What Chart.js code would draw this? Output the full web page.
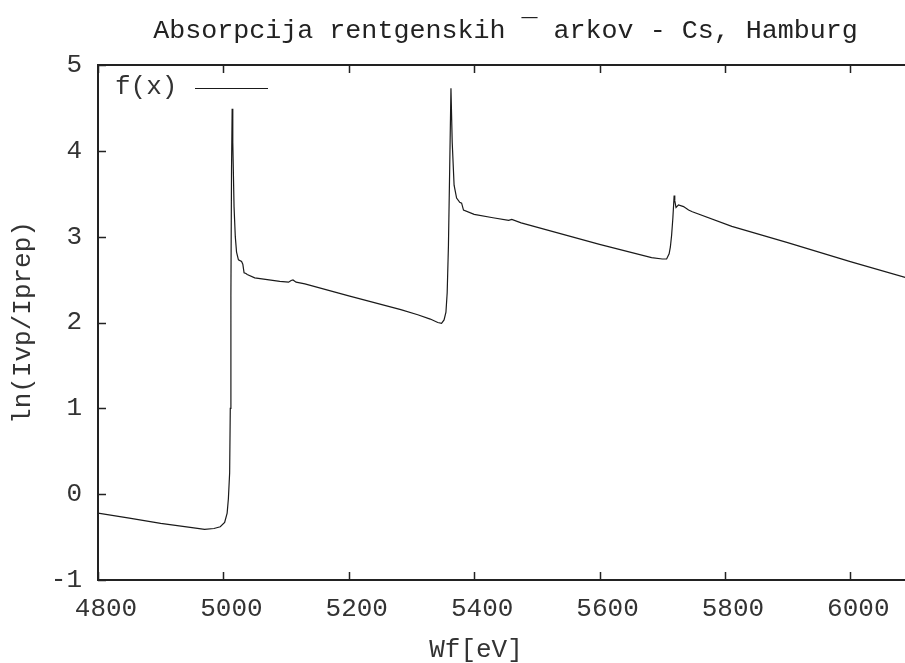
<!DOCTYPE html>
<html>
<head>
<meta charset="utf-8">
<script src="https://cdn.jsdelivr.net/npm/chart.js@4.4.0/dist/chart.umd.min.js"></script>
<style>
  body { margin: 0; overflow: hidden; background: #fff; }
  canvas { display: block; }
</style>
</head>
<body>
<canvas id="absChart" width="940" height="663"></canvas>
<script>
// values (photon energy in eV vs ln(Ivp/Iprep))
const energy = [4800, 4850, 4900, 4950, 4970, 4985, 4995, 5002, 5006, 5008, 5010, 5011, 5012, 5013, 5014,
    5015, 5017, 5019, 5021, 5024, 5029, 5031, 5033, 5036, 5038, 5050, 5070, 5090, 5104, 5108, 5111, 5116,
    5130, 5200, 5283, 5310, 5330, 5342, 5348, 5352, 5355, 5357, 5359, 5361, 5363, 5365, 5368, 5372, 5377,
    5380, 5383, 5400, 5430, 5455, 5460, 5475, 5600, 5683, 5700, 5707, 5711, 5713, 5715, 5717, 5719, 5720,
    5722, 5726, 5734, 5742, 5748, 5811, 5900, 6000, 6100]
const lnRatio = [-0.22, -0.28, -0.34, -0.39, -0.41, -0.40, -0.38, -0.33, -0.22, -0.05, 0.25, 1.0, 2.3, 3.8, 4.49,
    4.1, 3.35, 3.0, 2.82, 2.73, 2.71, 2.68, 2.58, 2.57, 2.56, 2.52, 2.50, 2.48, 2.47, 2.49, 2.495, 2.47,
    2.45, 2.31, 2.15, 2.09, 2.04, 2.00, 1.99, 2.03, 2.12, 2.35, 2.9, 3.8, 4.73, 4.1, 3.6, 3.45, 3.40,
    3.39, 3.31, 3.26, 3.22, 3.19, 3.20, 3.16, 2.91, 2.755, 2.74, 2.74, 2.80, 2.88, 3.02, 3.22, 3.48, 3.42,
    3.34, 3.37, 3.35, 3.31, 3.29, 3.12, 2.93, 2.71, 2.50]

const xTickValues = [4800, 5000, 5200, 5400, 5600, 5800, 6000]
const titleText = 'Absorpcija rentgenskih ¯ arkov - Cs, Hamburg'
const xLabel = 'Wf[eV]'
const yLabel = 'ln(Ivp/Iprep)'

const FONT = '"Liberation Mono", "DejaVu Sans Mono", monospace'
const INK = '#222'

const points = energy.map((e, i) => ({ x: e, y: lnRatio[i] }))

// gnuplot-like frame: border, inward ticks on all four sides, title, xlabel, key
const gnuplotFrame = {
    id: 'gnuplotFrame',
    afterDraw(chart) {
        const ctx = chart.ctx
        const a = chart.chartArea
        const xs = chart.scales.x
        const ys = chart.scales.y
        const t = 8
        ctx.save()
        ctx.strokeStyle = INK
        ctx.lineWidth = 2
        ctx.strokeRect(a.left, a.top, a.right - a.left, a.bottom - a.top)
        ctx.lineWidth = 1.5
        ctx.beginPath()
        xs.ticks.forEach(tk => {
            const px = Math.round(xs.getPixelForValue(tk.value)) + 0.5
            ctx.moveTo(px, a.bottom); ctx.lineTo(px, a.bottom - t)
            ctx.moveTo(px, a.top); ctx.lineTo(px, a.top + t)
        })
        ys.ticks.forEach(tk => {
            const py = Math.round(ys.getPixelForValue(tk.value)) + 0.5
            ctx.moveTo(a.left, py); ctx.lineTo(a.left + t, py)
            ctx.moveTo(a.right, py); ctx.lineTo(a.right - t, py)
        })
        ctx.stroke()

        ctx.fillStyle = INK
        ctx.font = '26.7px ' + FONT
        ctx.textAlign = 'center'
        ctx.textBaseline = 'middle'
        ctx.fillText(titleText, (a.left + a.right) / 2, 31)
        ctx.fillStyle = '#333'
        ctx.font = '26px ' + FONT
        ctx.fillText(xLabel, 476, 650)

        // key
        ctx.textAlign = 'left'
        ctx.fillText(chart.data.datasets[0].label, 115, 87)
        ctx.strokeStyle = '#1a1a1a'
        ctx.lineWidth = 1.2
        ctx.beginPath()
        ctx.moveTo(195, 88.5)
        ctx.lineTo(268, 88.5)
        ctx.stroke()
        ctx.restore()
    }
}

new Chart(document.getElementById('absChart'), {
    type: 'line',
    data: {
        datasets: [{
            label: 'f(x)',
            data: points,
            borderColor: '#1a1a1a',
            borderWidth: 1.2,
            pointRadius: 0,
            tension: 0,
            fill: false
        }]
    },
    options: {
        responsive: false,
        animation: false,
        devicePixelRatio: 1,
        layout: { padding: { top: 65, right: 27, left: 0, bottom: 0 } },
        plugins: {
            legend: { display: false },
            title: { display: false },
            tooltip: { enabled: false }
        },
        scales: {
            x: {
                type: 'linear',
                min: 4800,
                max: 6100,
                grid: { display: false, drawTicks: false },
                border: { display: false },
                ticks: {
                    color: '#333',
                    font: { family: FONT, size: 26 },
                    padding: 14,
                    maxRotation: 0,
                    autoSkip: false,
                    labelOffset: 8,
                    callback: (v) => String(v)
                },
                afterBuildTicks: (scale) => {
                    scale.ticks = xTickValues.map(v => ({ value: v }))
                },
                afterFit: (scale) => { scale.height = 83 }
            },
            y: {
                min: -1,
                max: 5,
                grid: { display: false, drawTicks: false },
                border: { display: false },
                ticks: {
                    stepSize: 1,
                    color: '#333',
                    font: { family: FONT, size: 26 },
                    padding: 16,
                    callback: (v) => String(v)
                },
                title: {
                    display: true,
                    text: yLabel,
                    color: '#333',
                    font: { family: FONT, size: 26 },
                    padding: { top: 8, bottom: 0 }
                },
                afterFit: (scale) => { scale.width = 98 }
            }
        }
    },
    plugins: [gnuplotFrame]
})
</script>
</body>
</html>
